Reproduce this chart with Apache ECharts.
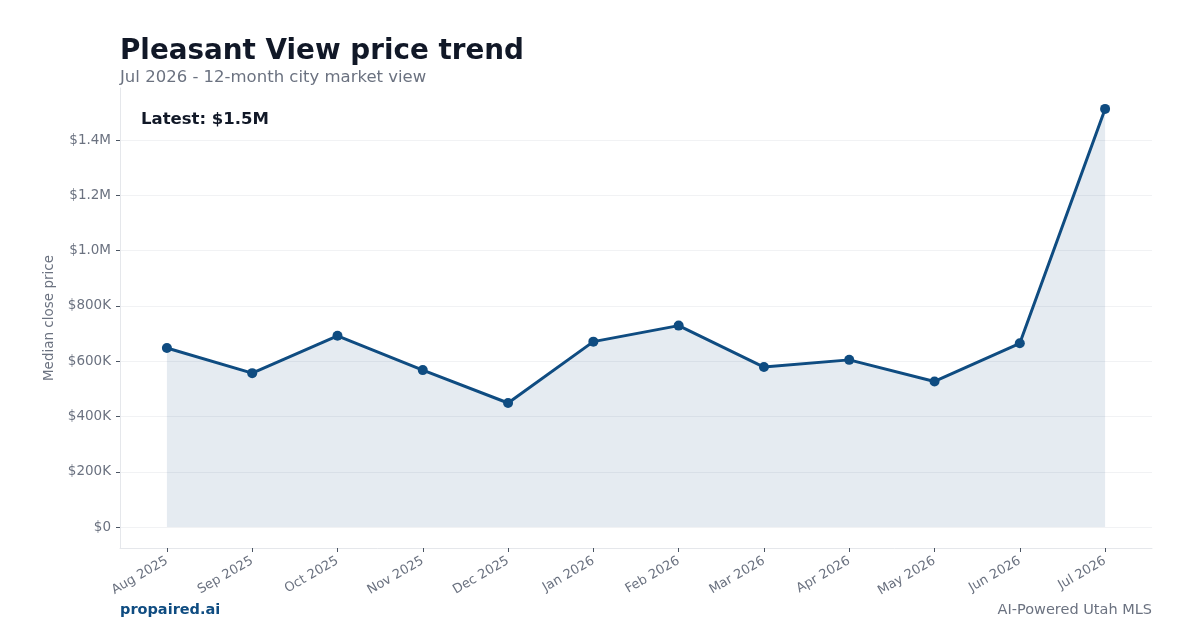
<!DOCTYPE html>
<html lang="en">
<head>
    <meta charset="UTF-8">
    <title>Pleasant View price trend</title>
    <script src="https://cdn.jsdelivr.net/npm/echarts@6/dist/echarts.min.js"></script>
    <style>
        html, body { margin: 0; padding: 0; background: #fff; }
        #main { width: 1200px; height: 630px; }
    </style>
</head>
<body>
<div id="main"></div>
<script type="text/javascript">
    // data
    var months = ['Aug 2025', 'Sep 2025', 'Oct 2025', 'Nov 2025', 'Dec 2025', 'Jan 2026',
        'Feb 2026', 'Mar 2026', 'Apr 2026', 'May 2026', 'Jun 2026', 'Jul 2026'];
    var medianPrice = [648000, 557000, 692000, 568000, 449000, 671000,
        729000, 579000, 605000, 527000, 665000, 1513000];
    var yTicks = [0, 200000, 400000, 600000, 800000, 1000000, 1200000, 1400000];

    var font = 'DejaVu Sans';
    var gray = '#6b7280';
    var navy = '#0f4c81';

    function money(v) {
        if (v === 0) return '$0';
        if (v >= 1000000) return '$' + (v / 1000000).toFixed(1) + 'M';
        return '$' + Math.round(v / 1000) + 'K';
    }

    var myChart = echarts.init(document.getElementById('main'), null, {renderer: 'canvas'});
    var latest = medianPrice[medianPrice.length - 1];

    myChart.setOption({
        animation: false,
        backgroundColor: '#fff',
        textStyle: {fontFamily: font},
        title: [
            {
                text: 'Pleasant View price trend',
                left: 120, top: 38, padding: 0,
                textStyle: {fontFamily: font, fontSize: 27.8, fontWeight: 'bold', color: '#111827'}
            },
            {
                text: 'Jul 2026 - 12-month city market view',
                left: 120, top: 69, padding: 0,
                textStyle: {fontFamily: font, fontSize: 16.5, fontWeight: 'normal', color: gray}
            },
            {
                text: 'Latest: ' + money(latest),
                left: 141, top: 111, padding: 0,
                textStyle: {fontFamily: font, fontSize: 16.5, fontWeight: 'bold', color: '#111827'}
            },
            {
                text: 'propaired.ai',
                left: 120, top: 603, padding: 0,
                textStyle: {fontFamily: font, fontSize: 14.5, fontWeight: 'bold', color: navy}
            },
            {
                text: 'AI-Powered Utah MLS',
                right: 48, top: 603, padding: 0,
                textStyle: {fontFamily: font, fontSize: 14.5, fontWeight: 'normal', color: gray}
            }
        ],
        grid: {left: 120, right: 48, top: 88, bottom: 82, containLabel: false},
        xAxis: {
            type: 'value',
            min: -0.55,
            max: 11.55,
            axisLine: {show: true, onZero: false, lineStyle: {color: '#e5e7eb', width: 1}},
            axisTick: {show: true, customValues: months.map(function (m, i) { return i; }),
                length: 4, lineStyle: {color: '#4b5563'}},
            axisLabel: {
                customValues: months.map(function (m, i) { return i; }),
                formatter: function (v) { return months[Math.round(v)] || ''; },
                rotate: 30, margin: 12,
                fontFamily: font, fontSize: 13, color: gray
            },
            splitLine: {show: false}
        },
        yAxis: {
            type: 'value',
            min: -75650,
            max: 1588650,
            name: 'Median close price',
            nameLocation: 'middle',
            nameGap: 59,
            nameTextStyle: {fontFamily: font, fontSize: 13.5, color: gray},
            axisLine: {show: true, onZero: false, lineStyle: {color: '#e5e7eb', width: 1}},
            axisTick: {show: true, customValues: yTicks, length: 4, lineStyle: {color: '#4b5563'}},
            axisLabel: {
                customValues: yTicks,
                formatter: money,
                margin: 9,
                fontFamily: font, fontSize: 13.5, color: gray
            },
            splitLine: {show: true, customValues: yTicks, lineStyle: {color: '#f1f2f4', width: 1}}
        },
        series: [
            {
                type: 'line',
                data: medianPrice.map(function (v, i) { return [i, v]; }),
                symbol: 'circle',
                symbolSize: 10,
                lineStyle: {color: navy, width: 3},
                itemStyle: {color: navy},
                areaStyle: {color: 'rgba(15,76,129,0.11)', opacity: 1, origin: 0},
                z: 3
            }
        ]
    });
</script>
</body>
</html>
